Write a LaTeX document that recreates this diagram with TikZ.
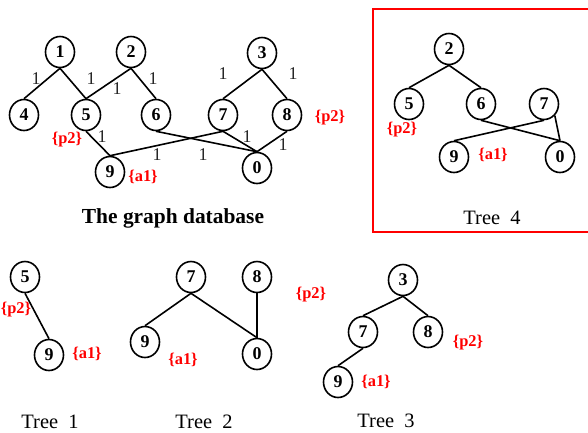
\documentclass[tikz,border=0pt]{standalone}
\usepackage{fontspec}
\setmainfont{Liberation Serif}
\usetikzlibrary{shapes.geometric}
\begin{document}
\begin{tikzpicture}[x=1bp,y=-1bp,
  vert/.style={ellipse,draw,line width=1.6bp,minimum width=29bp,minimum height=31bp,inner sep=0pt,font=\fontsize{18}{18}\selectfont\bfseries},
  attr/.style={text=red,font=\fontsize{16.5}{16.5}\selectfont\bfseries,inner sep=0pt},
  wt/.style={text=black!85,font=\fontsize{18}{18}\selectfont,inner sep=0pt},
  treecap/.style={font=\fontsize{20.5}{20.5}\selectfont,inner sep=0pt},
  titlecap/.style={font=\fontsize{21.5}{21.5}\selectfont\bfseries,inner sep=0pt},
  conn/.style={line width=1.6bp},
  frame/.style={draw=red,line width=1.6bp}]
\useasboundingbox (0,0) rectangle (588,432);
% ---------- graph database ----------
\node[vert] (g1) at (60,52) {1};
\node[vert] (g2) at (131,52) {2};
\node[vert] (g3) at (262,53) {3};
\node[vert] (g4) at (24,115) {4};
\node[vert] (g5) at (86,115) {5};
\node[vert] (g6) at (156,115) {6};
\node[vert] (g7) at (223,115) {7};
\node[vert] (g8) at (287,115) {8};
\node[vert] (g9) at (110,172) {9};
\node[vert] (g0) at (257,168) {0};
\draw[conn] (g1.south) -- (g4.north);
\draw[conn] (g1.south) -- (g5.north);
\draw[conn] (g2.south) -- (g5.north);
\draw[conn] (g2.south) -- (g6.north);
\draw[conn] (g3.south) -- (g7.north);
\draw[conn] (g3.south) -- (g8.north);
\draw[conn] (g5.south) -- (g9.north);
\draw[conn] (g6.south) -- (g0.north);
\draw[conn] (g7.south) -- (g9.north);
\draw[conn] (g7.south) -- (g0.north);
\draw[conn] (g8.south) -- (g0.north);
\node[wt] (w14) at (36,79) {1};
\node[wt] (w15) at (91,79) {1};
\node[wt] (w25) at (117,89) {1};
\node[wt] (w26) at (153,79) {1};
\node[wt] (w37) at (223,74) {1};
\node[wt] (w38) at (293,74) {1};
\node[wt] (w59) at (102,137) {1};
\node[wt] (w79) at (157,155) {1};
\node[wt] (w60) at (203,155) {1};
\node[wt] (w70) at (247,137) {1};
\node[wt] (w80) at (283,145) {1};
\node[attr] (gp5) at (67,140) {\{p2\}};
\node[attr] (ga9) at (143,177) {\{a1\}};
\node[attr] (gp8) at (330,118) {\{p2\}};
\node[titlecap] (gtitle) at (173,218) {The graph database};
% ---------- Tree 4 ----------
\draw[frame] (590,9) -- (373,9) -- (373,232) -- (590,232);
\node[vert] (d2) at (449,49) {2};
\node[vert] (d5) at (409,104) {5};
\node[vert] (d6) at (481,104) {6};
\node[vert] (d7) at (544,104) {7};
\node[vert] (d9) at (454,157) {9};
\node[vert] (d0) at (560,157) {0};
\draw[conn] (d2.south) -- (d5.north);
\draw[conn] (d2.south) -- (d6.north);
\draw[conn] (d6.south) -- (d0.north);
\draw[conn] (d7.south) -- (d9.north);
\draw[conn] (d7.south east) -- (d0.north);
\node[attr] (dp5) at (402,130) {\{p2\}};
\node[attr] (da9) at (493,155) {\{a1\}};
\node[treecap] (dcap) at (492,218) {Tree\ \ 4};
% ---------- Tree 1 ----------
\node[vert] (a5) at (25,277) {5};
\node[vert] (a9) at (49,355) {9};
\draw[conn] (a5.south) -- (a9.north);
\node[attr] (ap5) at (16,310) {\{p2\}};
\node[attr] (aa9) at (87,354) {\{a1\}};
\node[treecap] (acap) at (50,422) {Tree\ \ 1};
% ---------- Tree 2 ----------
\node[vert] (b7) at (191,277) {7};
\node[vert] (b8) at (257,277) {8};
\node[vert] (b9) at (145,342) {9};
\node[vert] (b0) at (257,354) {0};
\draw[conn] (b7.south) -- (b9.north);
\draw[conn] (b7.south) -- (b0.north);
\draw[conn] (b8.south) -- (b0.north);
\node[attr] (ba9) at (183,360) {\{a1\}};
\node[attr] (bp8) at (311,295) {\{p2\}};
\node[treecap] (bcap) at (204,422) {Tree\ \ 2};
% ---------- Tree 3 ----------
\node[vert] (c3) at (403,280) {3};
\node[vert] (c7) at (363,332) {7};
\node[vert] (c8) at (428,332) {8};
\node[vert] (c9) at (338,382) {9};
\draw[conn] (c3.south) -- (c7.north);
\draw[conn] (c3.south) -- (c8.north);
\draw[conn] (c7.south) -- (c9.north);
\node[attr] (cp8) at (468,343) {\{p2\}};
\node[attr] (ca9) at (376,382) {\{a1\}};
\node[treecap] (ccap) at (386,421) {Tree\ \ 3};
\end{tikzpicture}
\end{document}
